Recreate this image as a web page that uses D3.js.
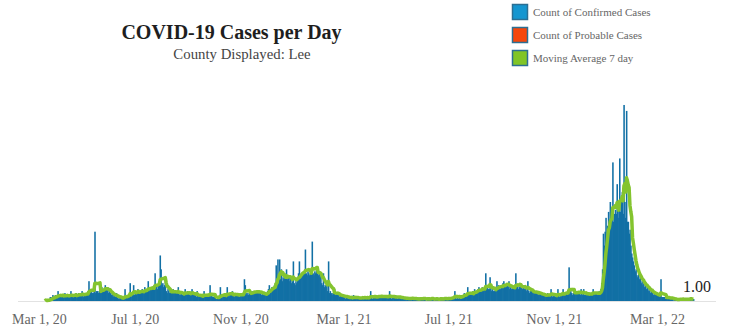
<!DOCTYPE html>
<html>
<head>
<meta charset="utf-8">
<script src="https://cdn.jsdelivr.net/npm/d3@7"></script>
<style>
  body { margin: 0; background: #fff; }
  svg { display: block; }
</style>
</head>
<body>
<svg id="chart" width="729" height="331"></svg>
<script>
// ---- data ----------------------------------------------------------------
const firstReportDate = "2020-03-18";

// Confirmed cases per day, one row per week starting at firstReportDate
const dailyConfirmed = [
  0,1,0,0,1,0,2,   1,2,3,1,2,3,2,   2,5,3,2,3,2,3,   3,2,4,2,3,3,2,
  2,3,5,2,3,2,3,   3,4,2,3,4,3,3,   3,5,3,2,4,3,4,   4,5,10,4,6,5,4,
  4,5,35,4,5,5,4,  5,6,5,7,6,5,6,   8,6,5,7,4,5,4,   3,4,2,3,3,2,4,
  2,1,2,1,2,2,1,   1,2,6,1,2,3,2,   3,9,2,4,3,8,3,   4,5,4,6,4,5,4,
  5,6,4,5,7,5,5,   6,10,5,6,7,6,6,  7,8,14,7,8,6,8,  9,23,16,8,9,7,8,
  12,5,4,6,5,4,5,  4,5,6,4,5,4,4,   4,7,3,4,3,5,3,   3,4,6,4,3,5,4,
  3,4,3,6,4,3,3,   3,2,5,2,3,2,3,   2,3,2,5,3,2,3,   3,2,3,8,2,3,2,
  2,3,2,1,1,2,1,   3,7,2,3,2,3,2,   3,4,7,3,2,4,3,   3,5,3,2,4,3,3,
  3,4,2,3,4,3,3,   3,11,8,4,3,4,3,  4,5,4,5,4,5,5,   4,5,5,4,5,4,5,
  3,4,3,4,3,4,3,   5,6,8,5,6,7,6,   7,8,9,18,8,21,9, 21,11,16,10,12,11,12,
  12,16,11,13,10,12,11, 9,10,20,9,8,10,9, 12,14,20,13,12,14,13, 14,15,26,14,13,15,14,
  13,14,15,30,14,13,15, 14,17,15,13,14,12,13, 9,8,14,7,8,7,8, 5,20,4,5,4,3,4,
  4,6,3,4,3,4,3,   2,3,2,3,2,3,2,   1,3,2,1,2,1,2,   2,1,3,2,1,2,1,
  2,1,2,2,1,2,2,   1,2,2,1,2,2,1,   2,5,2,1,2,2,2,   2,3,2,2,3,2,2,
  3,2,2,2,3,2,2,   2,2,5,2,1,2,2,   2,2,3,2,1,2,2,   2,2,1,2,1,1,2,
  1,1,2,1,1,1,2,   1,2,1,1,1,1,1,   1,1,1,2,1,1,1,   2,1,1,0,1,2,1,
  1,1,2,1,1,0,1,   1,2,1,1,0,1,2,   1,1,1,2,1,1,1,   1,2,1,2,1,2,2,
  2,5,2,1,2,1,2,   3,2,3,3,2,4,3,   3,4,7,3,3,4,3,   4,5,4,6,5,4,5,
  6,7,5,6,6,7,5,   6,7,14,6,7,6,6,  12,6,5,6,5,5,6,  7,10,6,8,7,6,7,
  8,9,10,8,7,8,9,  7,10,6,7,6,7,6,  7,8,14,7,8,6,7,  9,7,8,6,7,6,8,
  5,6,10,5,4,5,5,  5,4,5,4,4,5,4,   3,5,3,4,3,3,3,   3,3,2,3,4,3,3,
  3,6,3,2,3,3,2,   3,3,6,3,2,3,3,   4,6,4,3,4,4,3,   4,17,4,5,4,3,4,
  4,5,4,5,4,5,4,   3,6,4,3,6,3,3,   4,3,4,3,4,4,3,   4,6,4,3,4,4,3,
  4,5,4,6,9,16,34, 28,35,42,30,38,45,40, 50,42,45,70,40,44,46, 44,59,46,42,72,45,50,
  55,44,99,50,42,96,40, 40,34,36,28,24,22,20, 18,15,16,13,12,14,11, 12,9,10,8,9,7,8,
  6,8,5,6,5,4,5,   5,3,4,3,3,4,3,   3,2,3,11,2,2,2,  2,1,2,2,1,2,2,
  1,1,2,1,0,1,1,   1,0,1,1,1,1,1,   1,1,0,1,1,1,1,   1,1,1,2,0,1,1
];

const axisStart = "2020-03-01";
const axisEnd   = "2022-03-01";
const tickDates = ["2020-03-01", "2020-07-01", "2020-11-01", "2021-03-01",
                   "2021-07-01", "2021-11-01", "2022-03-01"];

const legendLabels = ["Count of Confirmed Cases", "Count of Probable Cases", "Moving Average 7 day"];
const legendColors = ["#1596d0", "#f5470d", "#80c526"];

const titleText = "COVID-19 Cases per Day";
const subtitleText = "County Displayed: Lee";
const movingWindow = 7;

// ---- setup ---------------------------------------------------------------
const svg = d3.select("#chart");
const parse = d3.timeParse("%Y-%m-%d");
const start = parse(firstReportDate);

const data = dailyConfirmed.map((v, i) => ({ date: d3.timeDay.offset(start, i), value: v }));
data.forEach((d, i) => {
  const win = data.slice(Math.max(0, i - movingWindow + 1), i + 1);
  d.ma = d3.mean(win, e => e.value);
});

const x = d3.scaleTime()
  .domain([parse(axisStart), parse(axisEnd)])
  .range([30, 657]);

const y = d3.scaleLinear()
  .domain([0, 100])
  .range([301, 103]);

const serif = "'Liberation Serif', 'Times New Roman', serif";

// ---- titles ----------------------------------------------------------------
svg.append("text")
  .attr("x", 231.5).attr("y", 38.5)
  .attr("text-anchor", "middle")
  .attr("font-family", serif).attr("font-weight", "bold")
  .attr("font-size", 20).attr("fill", "#1e1e1e")
  .text(titleText);

svg.append("text")
  .attr("x", 242).attr("y", 58.5)
  .attr("text-anchor", "middle")
  .attr("font-family", serif)
  .attr("font-size", 14.8).attr("fill", "#444")
  .text(subtitleText);

// ---- legend ----------------------------------------------------------------
const legend = svg.append("g").attr("transform", "translate(512,4)");
legendLabels.forEach((lab, i) => {
  const g = legend.append("g").attr("transform", `translate(0,${i * 23})`);
  g.append("rect")
    .attr("x", 0.5).attr("y", 0.5)
    .attr("width", 15).attr("height", 15)
    .attr("fill", legendColors[i])
    .attr("stroke", "#2c6f93").attr("stroke-width", 1.5);
  g.append("text")
    .attr("x", 21).attr("y", 12)
    .attr("font-family", serif)
    .attr("font-size", 11).attr("fill", "#666")
    .text(lab);
});

// ---- baseline --------------------------------------------------------------
svg.append("line")
  .attr("x1", 18).attr("x2", 716)
  .attr("y1", y(0) + 0.5).attr("y2", y(0) + 0.5)
  .attr("stroke", "#e2e2e2").attr("stroke-width", 1);

// ---- bars ------------------------------------------------------------------
const dayWidth = d => x(d3.timeDay.offset(d.date, 1)) - x(d.date);

svg.append("g")
  .selectAll("rect")
  .data(data)
  .join("rect")
  .attr("x", d => x(d.date) - 0.2)
  .attr("width", d => dayWidth(d) + 0.7)
  .attr("y", d => y(d.value))
  .attr("height", d => y(0) - y(d.value))
  .attr("fill", "#1270a5");

// ---- moving average ----------------------------------------------------------
const maLine = d3.line()
  .x(d => x(d.date) + dayWidth(d) / 2)
  .y(d => y(d.ma));

svg.append("path")
  .datum(data)
  .attr("fill", "none")
  .attr("stroke", "#84c42f")
  .attr("stroke-width", 3.5)
  .attr("stroke-linejoin", "round")
  .attr("d", maLine);

// latest moving-average value
const last = data[data.length - 1];
svg.append("text")
  .attr("x", x(last.date) + 4)
  .attr("y", y(last.ma) - 7.5)
  .attr("text-anchor", "middle")
  .attr("font-family", serif)
  .attr("font-size", 16).attr("fill", "#222")
  .text(d3.format(".2f")(last.ma));

// ---- x axis ----------------------------------------------------------------
const xAxis = d3.axisBottom(x)
  .tickValues(tickDates.map(parse))
  .tickFormat(d3.timeFormat("%b %-d, %y"))
  .tickSize(0)
  .tickPadding(0);

const ax = svg.append("g")
  .attr("transform", "translate(0,314)")
  .call(xAxis);
ax.select(".domain").remove();
ax.selectAll("text")
  .attr("font-family", serif)
  .attr("font-size", 14)
  .attr("fill", "#666");

// keep the first label inside the left edge
ax.selectAll(".tick").each(function () {
  const t = d3.select(this).select("text");
  const node = t.node();
  const w = node.getComputedTextLength();
  const tx = +d3.select(this).attr("transform").match(/translate\(([-\d.]+)/)[1];
  const left = tx - w / 2;
  if (left < 12) t.attr("dx", 12 - left);
});
</script>
</body>
</html>
